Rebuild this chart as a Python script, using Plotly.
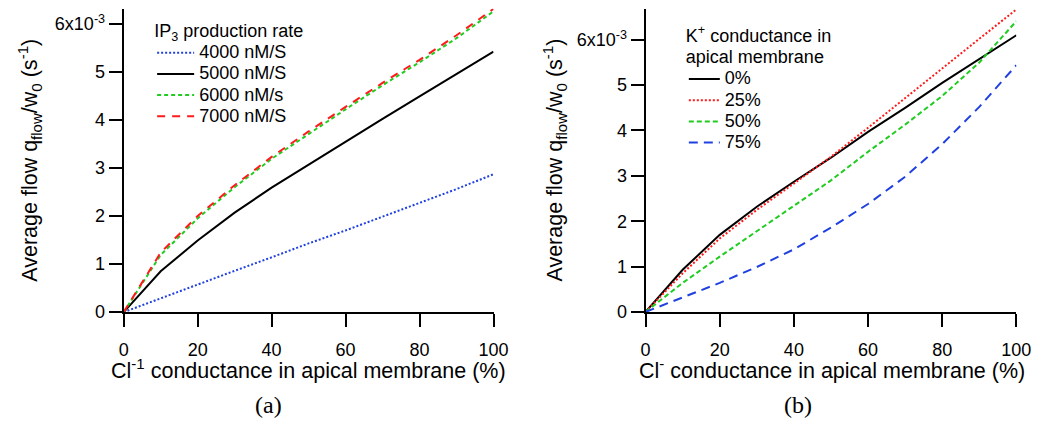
import plotly.graph_objects as go

# ---------------- data ----------------
cl_pct = [0, 10, 20, 30, 40, 50, 60, 70, 80, 90, 100]

# panel (a): IP3 production rate
ip3_names = ["4000 nM/S", "5000 nM/S", "6000 nM/s", "7000 nM/S"]
q4000 = [0, 0.29, 0.58, 0.86, 1.14, 1.43, 1.70, 1.99, 2.28, 2.56, 2.87]
q5000 = [0, 0.85, 1.49, 2.07, 2.59, 3.07, 3.55, 4.02, 4.49, 4.95, 5.42]
q6000 = [0, 1.19, 1.95, 2.60, 3.19, 3.71, 4.22, 4.72, 5.20, 5.70, 6.26]
q7000 = [0, 1.24, 2.00, 2.64, 3.23, 3.76, 4.27, 4.77, 5.25, 5.76, 6.31]

# panel (b): K+ conductance in apical membrane
k_names = ["0%", "25%", "50%", "75%"]
k0 = [0, 0.93, 1.70, 2.32, 2.87, 3.40, 3.97, 4.50, 5.05, 5.57, 6.10]
k25 = [0, 0.85, 1.62, 2.25, 2.83, 3.42, 4.06, 4.72, 5.37, 6.02, 6.67]
k50 = [0, 0.64, 1.22, 1.78, 2.33, 2.90, 3.53, 4.13, 4.76, 5.50, 6.41]
k75 = [0, 0.32, 0.64, 0.99, 1.38, 1.86, 2.38, 2.98, 3.70, 4.52, 5.44]

x_ticks = [0, 20, 40, 60, 80, 100]
y_ticks = [0, 1, 2, 3, 4, 5, 6]
y_ticktext = ["0", "1", "2", "3", "4", "5", "6x10<sup>-3</sup>"]

# ---------------- styles ----------------
BLUE = "#2040e0"
RED = "#ff1a1a"
GREEN = "#1fcc1f"
BLACK = "#000000"
FONT = "Liberation Sans"

def lab(t):
    return '<span style="font-size:18px">' + t + "</span>"

fig = go.Figure()

left_series = [
    (q4000, ip3_names[0], BLUE, "2px,2px"),
    (q5000, ip3_names[1], BLACK, "solid"),
    (q6000, ip3_names[2], GREEN, "4px,3px"),
    (q7000, ip3_names[3], RED, "8px,7px"),
]
for ys, name, col, dash in left_series:
    fig.add_trace(go.Scatter(x=cl_pct, y=ys, mode="lines", name=lab(name),
                             line=dict(color=col, width=2, dash=dash),
                             xaxis="x", yaxis="y", legend="legend"))

right_series = [
    (k0, k_names[0], BLACK, "solid"),
    (k25, k_names[1], RED, "2px,2px"),
    (k50, k_names[2], GREEN, "5px,3px"),
    (k75, k_names[3], BLUE, "9px,6px"),
]
for ys, name, col, dash in right_series:
    fig.add_trace(go.Scatter(x=cl_pct, y=ys, mode="lines", name=lab(name),
                             line=dict(color=col, width=2, dash=dash),
                             xaxis="x2", yaxis="y2", legend="legend2"))

W, H = 1050, 434

axis_common = dict(showline=True, linewidth=2, linecolor="black", ticks="outside",
                   ticklen=13, tickwidth=2, tickcolor="black", showgrid=False,
                   zeroline=False, tickfont=dict(family=FONT, size=18, color="black"))

fig.update_layout(
    width=W, height=H,
    margin=dict(l=0, r=0, t=0, b=0),
    paper_bgcolor="white", plot_bgcolor="white",
    font=dict(family=FONT, color="black"),
    xaxis=dict(domain=[121 / W, 498 / W], range=[0, 100], tickvals=x_ticks,
               anchor="y", ticklabelstandoff=7, **axis_common),
    yaxis=dict(domain=[1 - 319.5 / H, 0.9791], range=[0, 6.31], tickvals=y_ticks,
               ticktext=y_ticktext, anchor="x", **axis_common),
    xaxis2=dict(domain=[653 / W, 1031 / W], range=[0, 100], tickvals=x_ticks,
                anchor="y2", ticklabelstandoff=7, **axis_common),
    yaxis2=dict(domain=[1 - 319.3 / H, 0.9779], range=[0, 6.67], tickvals=y_ticks,
                ticktext=y_ticktext, anchor="x2", **axis_common),
    legend=dict(x=150 / W, y=1 - 14 / H, xanchor="left", yanchor="top",
                bgcolor="rgba(0,0,0,0)", font=dict(family=FONT, size=14),
                title=dict(text="IP<sub>3</sub> production rate",
                           font=dict(family=FONT, size=18)),
                itemwidth=37),
    legend2=dict(x=692 / W, y=1 - 21 / H, xanchor="left", yanchor="top",
                 bgcolor="rgba(0,0,0,0)", font=dict(family=FONT, size=14),
                 title=dict(text=lab("K<sup>+</sup> conductance in") + "<br>" + lab("apical membrane"),
                            font=dict(family=FONT, size=16.5)),
                 itemwidth=31),
)

ann = [
    dict(text="Cl<sup>-1</sup> conductance in apical membrane (%)", x=309 / W, y=1 - 378 / H),
    dict(text="Cl<sup>-</sup> conductance in apical membrane (%)", x=843 / W, y=1 - 378 / H),
    dict(text="Average flow q<sub>flow</sub>/w<sub>0</sub> (s<sup>-1</sup>)", x=25 / W,
         y=1 - 164 / H, textangle=-90),
    dict(text="Average flow q<sub>flow</sub>/w<sub>0</sub> (s<sup>-1</sup>)", x=560 / W,
         y=1 - 164 / H, textangle=-90),
]
for a in ann:
    fig.add_annotation(xref="paper", yref="paper", showarrow=False,
                       xanchor="center", yanchor="middle",
                       font=dict(family=FONT, size=21.5, color="black"), **a)

for t, xc in (("(a)", 269), ("(b)", 808)):
    fig.add_annotation(text=t, xref="paper", yref="paper", x=xc / W, y=1 - 415 / H,
                       showarrow=False, xanchor="center", yanchor="middle",
                       font=dict(family="Liberation Serif", size=24, color="black"))

fig.write_html(
    "out.html",
    config={"displayModeBar": False},
    post_script=("document.documentElement.style.margin='0';"
                 "document.body.style.margin='0';"),
)
